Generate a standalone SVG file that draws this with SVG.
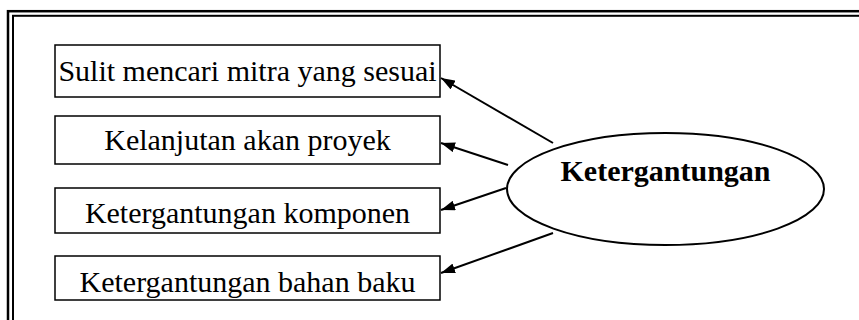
<svg xmlns="http://www.w3.org/2000/svg" width="859" height="320" viewBox="0 0 859 320">
<style>
.box{fill:#fff;stroke:#000;stroke-width:1.5}
.t{font-family:"Liberation Serif","Times New Roman",serif;font-size:30px;fill:#000;text-anchor:middle}
.b{font-weight:bold}
.c{stroke:#000;stroke-width:2;fill:none;marker-end:url(#ah)}
</style>
<defs>
<marker id="ah" viewBox="0 0 14 10" refX="14" refY="5" markerWidth="14" markerHeight="10" markerUnits="userSpaceOnUse" orient="auto">
<path d="M0,0 L14,5 L0,10 z" fill="#000"/>
</marker>
</defs>
<rect width="859" height="320" fill="#fff"/>
<g id="frame" fill="none" stroke="#000">
<rect x="8" y="11.2" width="900" height="400" stroke-width="2.5"/>
<rect x="13" y="15.8" width="900" height="400" stroke-width="2"/>
</g>
<g id="n1"><rect class="box" x="55" y="45" width="385" height="52"/><text class="t" x="247.5" y="81">Sulit mencari mitra yang sesuai</text></g>
<g id="n2"><rect class="box" x="55" y="116" width="385" height="48"/><text class="t" x="247.5" y="150">Kelanjutan akan proyek</text></g>
<g id="n3"><rect class="box" x="55" y="188" width="385" height="45"/><text class="t" x="247.5" y="223">Ketergantungan komponen</text></g>
<g id="n4"><rect class="box" x="55" y="256" width="385" height="44"/><text class="t" x="247.5" y="291.5">Ketergantungan bahan baku</text></g>
<g id="n0"><ellipse cx="665.5" cy="189" rx="158.5" ry="56" fill="#fff" stroke="#000" stroke-width="2"/><text class="t b" x="665.5" y="181">Ketergantungan</text></g>
<g id="connectors">
<line class="c" x1="553" y1="143" x2="441" y2="78"/>
<line class="c" x1="508" y1="165" x2="441" y2="143"/>
<line class="c" x1="506" y1="188" x2="441" y2="210"/>
<line class="c" x1="553" y1="233" x2="441" y2="273"/>
</g>
</svg>
